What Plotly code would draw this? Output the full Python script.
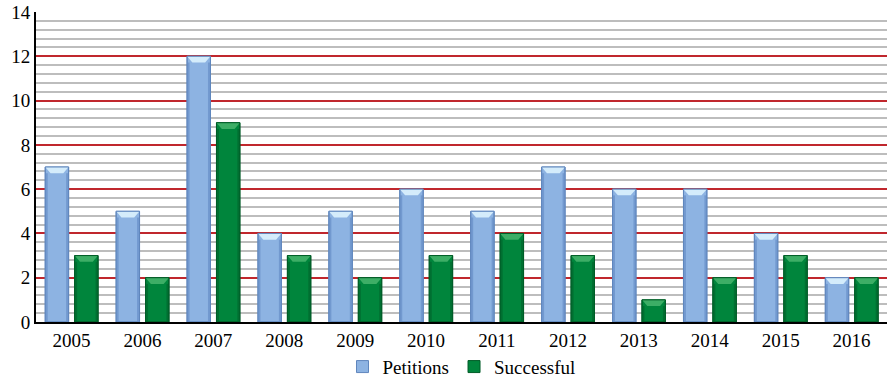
import plotly.graph_objects as go

years = ["2005", "2006", "2007", "2008", "2009", "2010",
         "2011", "2012", "2013", "2014", "2015", "2016"]
petitions = [7, 5, 12, 4, 5, 6, 5, 7, 6, 6, 4, 2]
successful = [3, 2, 9, 3, 2, 3, 4, 3, 1, 2, 3, 2]

FONT = "Liberation Serif"

series = [
    # name, values, offset, width, fill, edge, top highlight, side shade
    ("Petitions", petitions, -0.37, 0.33, "#8DB3E2", "#5F86BD", "#D4ECFB", "#7299CF"),
    ("Successful", successful, 0.045, 0.33, "#00853C", "#005C27", "#3DAE66", "#006F31"),
]

fig = go.Figure()
shapes = []
ymax = 14
bev_x = 0.075   # bevel inset along x (category units)
bev_y = 0.28    # bevel depth along y (value units)
side = 0.035    # darker side strip width

for name, vals, off, w, fill, edge, hi, shade in series:
    fig.add_trace(go.Bar(
        x=years, y=vals, name=name, offset=off, width=w,
        marker=dict(color=fill, line=dict(color=edge, width=1)),
    ))
    for i, v in enumerate(vals):
        x0, x1 = i + off, i + off + w
        d = min(bev_y, v * 0.3)
        # side shading
        shapes.append(dict(type="rect", xref="x", yref="y", layer="above",
                           x0=x0, x1=x0 + side, y0=0, y1=v - d,
                           fillcolor=shade, line=dict(width=0)))
        shapes.append(dict(type="rect", xref="x", yref="y", layer="above",
                           x0=x1 - side, x1=x1, y0=0, y1=v - d,
                           fillcolor=shade, line=dict(width=0)))
        # top bevel
        path = (f"M {x0},{v} L {x1},{v} L {x1 - bev_x},{v - d} "
                f"L {x0 + bev_x},{v - d} Z")
        shapes.append(dict(type="path", xref="x", yref="y", layer="above",
                           path=path, fillcolor=hi, line=dict(width=0)))
        # outline over the decorations
        shapes.append(dict(type="rect", xref="x", yref="y", layer="above",
                           x0=x0, x1=x1, y0=0, y1=v,
                           fillcolor="rgba(0,0,0,0)", line=dict(color=edge, width=1)))

fig.update_layout(
    width=887, height=382,
    margin=dict(l=36, r=0, t=12, b=60, autoexpand=False),
    paper_bgcolor="white", plot_bgcolor="white",
    barmode="group",
    font=dict(family=FONT, size=19, color="black"),
    showlegend=True,
    legend=dict(orientation="h", x=0.5, xanchor="center",
                yref="container", y=0.04, yanchor="middle",
                font=dict(family=FONT, size=19), itemwidth=30,
                traceorder="normal"),
    shapes=shapes,
)
fig.update_xaxes(
    type="category", range=[-0.5, 11.5],
    showline=True, linecolor="black", linewidth=2,
    ticks="", showgrid=False,
    tickfont=dict(family=FONT, size=19),
)
fig.update_yaxes(
    range=[0, ymax], dtick=2, tick0=0,
    showline=True, linecolor="black", linewidth=2,
    ticks="", showgrid=True, gridcolor="#C0272D", gridwidth=1.5,
    zeroline=False,
    minor=dict(dtick=0.4, tick0=0, showgrid=True, gridcolor="#BDBDBD", gridwidth=2),
    tickfont=dict(family=FONT, size=19),
)

fig.write_html("out.html")
